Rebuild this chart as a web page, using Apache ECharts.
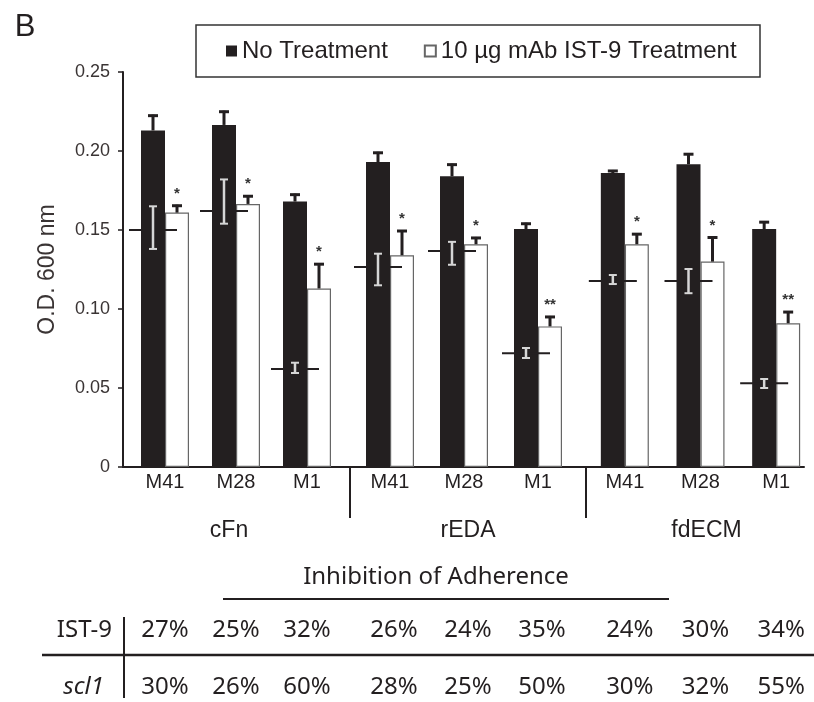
<!DOCTYPE html>
<html>
<head>
<meta charset="utf-8">
<style>
  html, body { margin: 0; padding: 0; background: #fff; }
  #chart { width: 814px; height: 702px; }
</style>
<script src="https://cdn.jsdelivr.net/npm/echarts@6/dist/echarts.min.js"></script>
</head>
<body>
<div id="chart"></div>
<script>
// ---------------- data ----------------
const categories = ['M41', 'M28', 'M1'];
const groups = ['cFn', 'rEDA', 'fdECM'];
const seriesNames = ['No Treatment', '10 \u00b5g mAb IST-9 Treatment'];

const noTreatment    = [[0.213, 0.2165, 0.168], [0.193, 0.184, 0.1506], [0.186, 0.1916, 0.1506]];
const noTreatmentErr = [[0.010, 0.009, 0.005],  [0.0065, 0.008, 0.004], [0.002, 0.007, 0.005]];
const treated        = [[0.161, 0.1665, 0.113], [0.134, 0.141, 0.089],  [0.141, 0.130, 0.091]];
const treatedErr     = [[0.005, 0.0055, 0.016], [0.016, 0.0046, 0.0066], [0.007, 0.0159, 0.0077]];
const refMean        = [[0.150, 0.162, 0.062],  [0.1266, 0.1367, 0.072], [0.1177, 0.1177, 0.053]];
const refLow         = [[0.138, 0.154, 0.0595], [0.115, 0.128, 0.069],  [0.1158, 0.110, 0.050]];
const refHigh        = [[0.165, 0.182, 0.066],  [0.135, 0.1425, 0.0753], [0.1215, 0.1253, 0.0557]];
const significance   = [['*', '*', '*'], ['*', '*', '**'], ['*', '*', '**']];

const yMin = 0, yMax = 0.25, yStep = 0.05;

const ist9Inhibition = [['27%', '25%', '32%'], ['26%', '24%', '35%'], ['24%', '30%', '34%']];
const scl1Inhibition = [['30%', '26%', '60%'], ['28%', '25%', '50%'], ['30%', '32%', '55%']];

// ---------------- style ----------------
const DARK = '#231f20';
const SANS = '"Liberation Sans", Arial, sans-serif';
const TABLE_FONT = '"Noto Sans", "Open Sans", sans-serif';
const BAR_W = 24;

const chart = echarts.init(document.getElementById('chart'), null, { renderer: 'canvas' });

const plotTop = 72, plotBottom = 235;
const gridBoxes = [
  { left: 129.5, width: 213 },
  { left: 353, width: 222 },
  { left: 587, width: 227 }
];
const tableShift = [0, 8, 10];
const groupNamePad = [[0, 14, 0, 0], [0, 0, 0, 8], [0, 0, 0, 12]];

const grids = [{ left: 123, right: 10, top: plotTop, bottom: plotBottom, outerBoundsMode: 'none' }];
gridBoxes.forEach(b => grids.push({ left: b.left, width: b.width, top: plotTop, bottom: plotBottom, outerBoundsMode: 'none' }));

const xAxes = [{
  gridIndex: 0, type: 'value', min: 0, max: 1,
  axisLine: { show: true, onZero: false, lineStyle: { color: DARK, width: 2 } },
  axisTick: { show: false }, axisLabel: { show: false }, splitLine: { show: false }
}];
const yAxes = [{
  gridIndex: 0, type: 'value', min: yMin, max: yMax, interval: yStep,
  axisLine: { show: true, lineStyle: { color: DARK, width: 2 } },
  axisTick: { show: true, length: 5, lineStyle: { color: DARK, width: 1.5 } },
  axisLabel: {
    fontSize: 18, color: '#3a3434', fontFamily: SANS, margin: 13,
    formatter: v => (v === 0 ? '0' : v.toFixed(2))
  },
  splitLine: { show: false },
  name: 'O.D. 600 nm', nameLocation: 'middle', nameRotate: 90, nameGap: 64,
  nameTextStyle: { fontSize: 23, color: '#3a3434', fontFamily: SANS }
}];

const series = [];

groups.forEach((g, gi) => {
  const gridIndex = gi + 1;
  const catAxis = xAxes.length;
  xAxes.push({
    gridIndex, type: 'category', data: categories,
    axisLine: { show: false }, axisTick: { show: false }, splitLine: { show: false },
    axisLabel: { fontSize: 20, color: DARK, fontFamily: SANS, margin: 5, interval: 0 },
    name: g, nameLocation: 'middle', nameGap: 52,
    nameTextStyle: { fontSize: 23, color: DARK, fontFamily: SANS, padding: groupNamePad[gi] }
  });
  xAxes.push({
    gridIndex, type: 'category', data: ist9Inhibition[gi], position: 'bottom', offset: 151,
    axisLine: { show: false }, axisTick: { show: false }, splitLine: { show: false },
    axisLabel: { fontSize: 24, color: DARK, fontFamily: TABLE_FONT, margin: 0, interval: 0,
                 padding: [0, 0, 0, tableShift[gi]] }
  });
  xAxes.push({
    gridIndex, type: 'category', data: scl1Inhibition[gi], position: 'bottom', offset: 208,
    axisLine: { show: false }, axisTick: { show: false }, splitLine: { show: false },
    axisLabel: { fontSize: 24, color: DARK, fontFamily: TABLE_FONT, margin: 0, interval: 0,
                 padding: [0, 0, 0, tableShift[gi]] }
  });
  const yAxisIndex = yAxes.length;
  yAxes.push({ gridIndex, type: 'value', min: yMin, max: yMax, interval: yStep, show: false });

  series.push({
    name: seriesNames[0], type: 'bar', xAxisIndex: catAxis, yAxisIndex,
    data: noTreatment[gi], barWidth: BAR_W, barGap: '0%',
    itemStyle: { color: DARK }, z: 2
  });
  series.push({
    name: seriesNames[1], type: 'bar', xAxisIndex: catAxis, yAxisIndex,
    data: treated[gi], barWidth: BAR_W, barGap: '0%',
    itemStyle: { color: '#ffffff', borderColor: '#666', borderWidth: 1.2 }, z: 2
  });

  const rows = categories.map((c, ci) => [
    ci, noTreatment[gi][ci], noTreatmentErr[gi][ci], treated[gi][ci], treatedErr[gi][ci],
    refMean[gi][ci], refLow[gi][ci], refHigh[gi][ci]
  ]);
  series.push({
    type: 'custom', xAxisIndex: catAxis, yAxisIndex, z: 5, silent: true,
    encode: { x: 0, y: 1 },
    data: rows,
    renderItem: (params, api) => {
      const idx = api.value(0);
      const cx = api.coord([idx, 0])[0];
      const xb = cx - BAR_W / 2, xw = cx + BAR_W / 2;
      const Y = v => api.coord([idx, v])[1];
      const b = api.value(1), be = api.value(2), w = api.value(3), we = api.value(4);
      const rm = api.value(5), rl = api.value(6), rh = api.value(7);
      const line = (x1, y1, x2, y2, stroke, lw) => ({
        type: 'line', shape: { x1, y1, x2, y2 }, style: { stroke, lineWidth: lw }
      });
      const LIGHT = '#d6d6d6';
      const children = [
        line(xb, Y(b), xb, Y(b + be), DARK, 3),
        line(xb - 5, Y(b + be) + 1, xb + 5, Y(b + be) + 1, DARK, 3),
        line(xw, Y(w), xw, Y(w + we), DARK, 3),
        line(xw - 5, Y(w + we) + 1, xw + 5, Y(w + we) + 1, DARK, 3),
        line(xb - 24, Y(rm), xb + 24, Y(rm), DARK, 2),
        line(xb, Y(rl), xb, Y(rh), LIGHT, 2.5),
        line(xb - 4, Y(rl), xb + 4, Y(rl), LIGHT, 2),
        line(xb - 4, Y(rh), xb + 4, Y(rh), LIGHT, 2),
        {
          type: 'text', x: xw, y: Y(w + we) - 11,
          style: {
            text: significance[gi][params.dataIndex], fill: '#333',
            fontSize: 15, fontWeight: 'bold', fontFamily: SANS,
            align: 'center', verticalAlign: 'middle', textAlign: 'center', textVerticalAlign: 'middle'
          }
        }
      ];
      return { type: 'group', children };
    }
  });
});

const txt = (x, y, text, opts) => ({
  type: 'text', x, y, silent: true,
  style: Object.assign({
    text, fill: DARK, textAlign: 'center', textVerticalAlign: 'middle',
    align: 'center', verticalAlign: 'middle'
  }, opts)
});
const seg = (x1, y1, x2, y2, lw) => ({
  type: 'line', silent: true, shape: { x1, y1, x2, y2 }, style: { stroke: DARK, lineWidth: lw }
});

const option = {
  animation: false,
  backgroundColor: '#ffffff',
  grid: grids,
  xAxis: xAxes,
  yAxis: yAxes,
  legend: {
    data: seriesNames, left: 226, top: 39, padding: 0,
    icon: 'rect', itemWidth: 11, itemHeight: 11, itemGap: 36,
    textStyle: { fontSize: 24, color: DARK, fontFamily: SANS }
  },
  graphic: [
    txt(25, 27, 'B', { font: '31px "Liberation Sans", Arial, sans-serif' }),
    { type: 'rect', silent: true, shape: { x: 196, y: 25, width: 564, height: 52 },
      style: { fill: 'none', stroke: '#333', lineWidth: 1.5 } },
    seg(350, 467, 350, 518, 2),
    seg(586, 467, 586, 518, 2),
    txt(436, 577, 'Inhibition of Adherence', { font: '24px "Noto Sans", "Open Sans", sans-serif' }),
    seg(223, 599, 669, 599, 2),
    txt(112, 630, 'IST-9', { font: '24px "Noto Sans", "Open Sans", sans-serif', textAlign: 'right', align: 'right' }),
    txt(104, 687, 'scl1', { font: 'italic 24px "Noto Sans", "Open Sans", sans-serif', textAlign: 'right', align: 'right' }),
    seg(124, 617, 124, 698, 2),
    seg(42, 655, 814, 655, 2.5)
  ],
  series
};

chart.setOption(option);
</script>
</body>
</html>
